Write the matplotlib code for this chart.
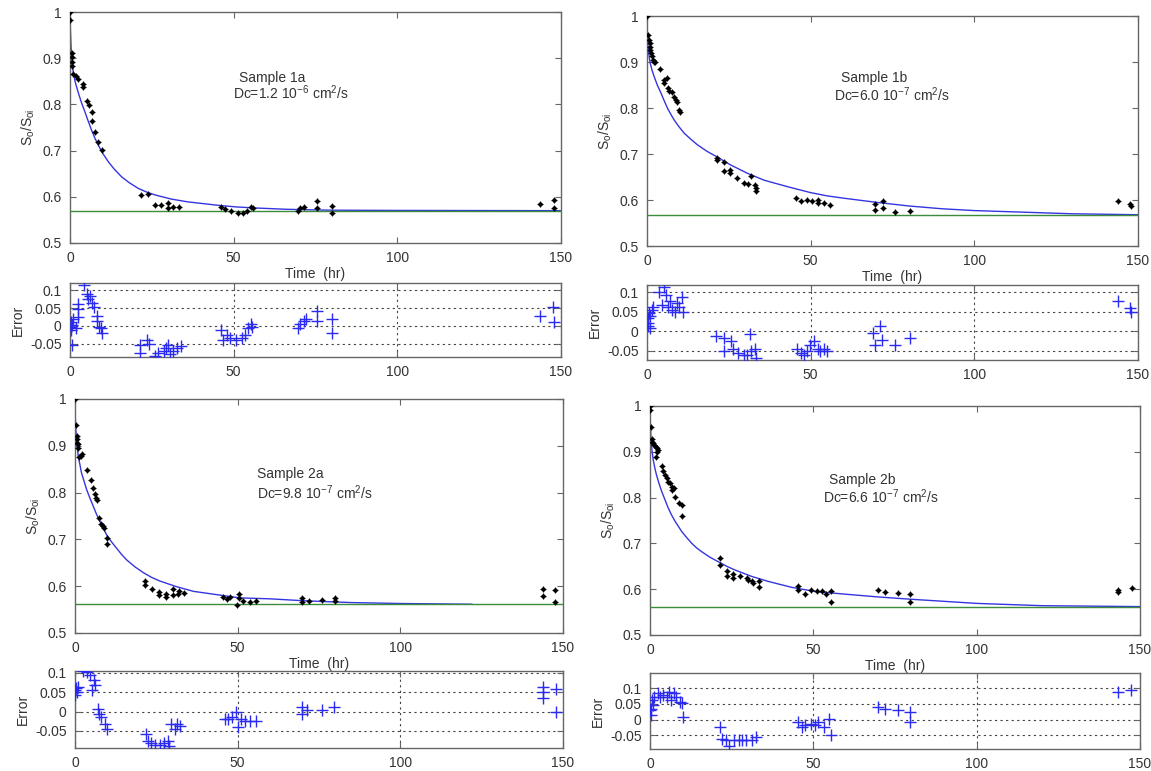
import matplotlib
matplotlib.use("Agg")
import matplotlib.pyplot as plt

plt.rcParams['font.family'] = ['Liberation Sans', 'DejaVu Sans']
plt.rcParams['mathtext.fontset'] = 'custom'
plt.rcParams['mathtext.rm'] = 'Liberation Sans'
plt.rcParams['mathtext.it'] = 'Liberation Sans:italic'

# ---------------- Sample 1a ----------------
t1 = [0, 0, 0.5, 0.5, 0.7, 0.7, 1.0, 1.7, 2.3, 4.0, 4.0, 5.1, 5.8, 6.6, 6.8, 7.6, 8.7, 9.9,
      21.7, 23.7, 26.0, 27.8, 30.0, 30.0, 31.5, 33.3, 46.0, 47.4, 49.3, 51.2, 52.9, 54.0, 55.2, 56.0,
      69.8, 70.4, 71.5, 75.4, 75.4, 80.0, 80.0, 143.6, 148.0, 148.0]
y1 = [1.0, 0.983, 0.912, 0.902, 0.891, 0.884, 0.866, 0.862, 0.855, 0.844, 0.837, 0.808, 0.798, 0.783,
      0.765, 0.740, 0.719, 0.701, 0.604, 0.607, 0.582, 0.582, 0.586, 0.575, 0.577, 0.577, 0.578, 0.573,
      0.569, 0.566, 0.566, 0.569, 0.579, 0.576, 0.569, 0.576, 0.579, 0.590, 0.576, 0.581, 0.565,
      0.585, 0.594, 0.576]
fit_t1 = [0, 0.1, 0.3, 0.6, 1.0, 1.6, 2.5, 3.5, 4.6, 5.6, 6.6, 7.6, 8.7, 10.0, 11.7, 13.5, 15.8, 18.0,
          20.9, 23.5, 26.0, 31.0, 36.0, 41.0, 46.0, 51.0, 56.0, 61.0, 66.0, 72.0, 80.0, 100.0, 150.0]
fit_y1 = [1.0, 0.965, 0.927, 0.895, 0.870, 0.848, 0.826, 0.804, 0.783, 0.763, 0.744, 0.727, 0.711,
          0.694, 0.676, 0.660, 0.643, 0.631, 0.618, 0.610, 0.604, 0.595, 0.589, 0.585, 0.581, 0.578,
          0.576, 0.5745, 0.573, 0.572, 0.571, 0.5705, 0.570]
base1 = 0.570
et1 = [0.2, 0.4, 0.4, 0.6, 0.9, 1.7, 0.6, 2.3, 2.5, 2.3, 4.3, 5.1, 5.6, 6.2, 6.8, 7.3, 8.1, 8.1, 9.0, 9.6,
       9.9, 21.4, 21.4, 23.6, 24.2, 25.9, 27.0, 28.7, 29.3, 29.8, 30.4, 31.5, 32.7, 33.8, 46.2, 46.7,
       47.9, 49.0, 50.7, 52.4, 53.5, 54.3, 55.2, 55.7, 69.8, 70.4, 71.5, 72.1, 75.4, 75.4, 80.0, 80.0,
       143.6, 147.5, 148.0]
e1 = [0.011, -0.003, -0.012, 0.002, 0.020, -0.007, -0.053, 0.047, 0.061, 0.025, 0.115, 0.088, 0.075,
      0.084, 0.065, 0.052, 0.029, 0.015, -0.003, -0.007, -0.021, -0.053, -0.075, -0.039, -0.051,
      -0.085, -0.075, -0.071, -0.062, -0.053, -0.080, -0.071, -0.062, -0.055, -0.012, -0.039, -0.025,
      -0.035, -0.039, -0.035, -0.025, -0.007, 0.004, -0.003, -0.007, 0.006, 0.015, 0.020, 0.043, 0.015,
      0.020, -0.021, 0.029, 0.052, 0.011]

# ---------------- Sample 1b ----------------
t2 = [0, 0.4, 0.7, 0.8, 0.9, 1.0, 1.2, 1.4, 1.7, 2.0, 2.4, 4.1, 5.1, 5.1, 6.1, 6.3, 6.8, 7.5, 8.1, 8.8,
      9.3, 9.9, 10.2, 21.3, 21.3, 23.6, 23.6, 25.4, 25.4, 27.6, 29.7, 30.9, 31.7, 33.0, 33.2, 33.2,
      45.4, 47.0, 49.0, 50.5, 52.1, 52.1, 54.0, 55.9, 69.6, 69.6, 72.1, 72.1, 75.8, 80.4,
      143.9, 147.5, 148.0]
y2 = [1.0, 0.959, 0.948, 0.941, 0.933, 0.926, 0.919, 0.912, 0.904, 0.899, 0.899, 0.885, 0.861, 0.854,
      0.866, 0.843, 0.836, 0.834, 0.825, 0.817, 0.814, 0.796, 0.792, 0.692, 0.687, 0.682, 0.662,
      0.665, 0.658, 0.647, 0.636, 0.634, 0.653, 0.633, 0.627, 0.620, 0.605, 0.598, 0.600, 0.597,
      0.601, 0.594, 0.593, 0.589, 0.592, 0.578, 0.597, 0.583, 0.573, 0.576, 0.597, 0.592, 0.588]
fit_t2 = [0, 0.1, 0.25, 0.5, 0.75, 1.0, 1.5, 2.2, 3.2, 4.3, 5.3, 6.3, 7.3, 8.3, 9.8, 11.4, 13.4, 15.4,
          18.3, 21.3, 25.6, 30.7, 35.8, 42.9, 50.0, 55.0, 60.0, 70.0, 80.0, 90.0, 100.0, 113.0, 130.0,
          150.0]
fit_y2 = [1.0, 0.965, 0.942, 0.921, 0.907, 0.897, 0.883, 0.868, 0.849, 0.832, 0.815, 0.799, 0.786,
          0.774, 0.759, 0.745, 0.732, 0.720, 0.706, 0.694, 0.676, 0.658, 0.643, 0.629, 0.616, 0.609,
          0.604, 0.595, 0.587, 0.581, 0.577, 0.574, 0.570, 0.568]
base2 = 0.567
et2 = [0.2, 0.4, 0.6, 0.8, 1.0, 1.4, 1.9, 0.2, 3.6, 5.3, 5.9, 4.7, 6.4, 7.0, 7.6, 8.7, 9.3, 9.8, 10.7,
       10.9, 21.1, 23.4, 23.4, 25.6, 26.2, 27.9, 29.6, 30.7, 31.5, 31.8, 33.0, 33.3, 45.9, 47.1, 48.0,
       48.8, 49.9, 51.0, 52.1, 52.7, 54.1, 55.0, 69.1, 69.6, 71.3, 71.9, 75.8, 80.4, 143.9, 147.5,
       148.0]
e2 = [0.034, 0.021, 0.046, 0.008, 0.038, 0.055, 0.063, 0.013, 0.100, 0.113, 0.092, 0.067, 0.063, 0.076,
      0.055, 0.050, 0.071, 0.063, 0.088, 0.050, -0.013, -0.017, -0.050, -0.025, -0.046, -0.055,
      -0.059, -0.061, -0.008, -0.050, -0.046, -0.067, -0.046, -0.055, -0.059, -0.050, -0.034, -0.025,
      -0.046, -0.050, -0.046, -0.050, -0.004, -0.034, 0.013, -0.021, -0.036, -0.017, 0.076, 0.059,
      0.050]

# ---------------- Sample 2a ----------------
t3 = [0, 0.2, 0.5, 0.7, 0.7, 1.0, 1.0, 1.3, 1.7, 2.0, 3.8, 4.8, 5.6, 6.1, 6.5, 6.9, 7.5, 7.9, 8.5, 8.9,
      9.7, 9.7, 21.5, 21.5, 23.6, 25.9, 25.9, 28.0, 28.0, 30.0, 30.0, 31.7, 31.9, 33.5, 45.6, 46.6,
      47.6, 49.9, 50.3, 50.3, 51.6, 53.9, 55.6, 69.7, 69.7, 72.0, 75.9, 79.9, 79.9, 143.7, 143.7,
      147.5, 147.5]
y3 = [1.0, 0.945, 0.921, 0.914, 0.907, 0.903, 0.896, 0.877, 0.878, 0.882, 0.849, 0.827, 0.810, 0.796,
      0.789, 0.784, 0.746, 0.733, 0.729, 0.724, 0.703, 0.690, 0.611, 0.602, 0.595, 0.588, 0.581,
      0.583, 0.577, 0.595, 0.581, 0.584, 0.590, 0.586, 0.576, 0.573, 0.576, 0.559, 0.583, 0.575,
      0.569, 0.566, 0.568, 0.575, 0.566, 0.569, 0.571, 0.575, 0.569, 0.595, 0.578, 0.591, 0.566]
fit_t3 = [0, 0.1, 0.25, 0.5, 0.75, 1.0, 1.5, 2.0, 2.8, 3.6, 4.6, 5.6, 6.6, 7.7, 8.7, 9.7, 11.2, 12.8,
          14.3, 15.9, 18.5, 21.0, 23.5, 26.1, 31.2, 36.4, 41.5, 46.6, 50.7, 60.0, 70.0, 85.0, 100.0,
          122.0]
fit_y3 = [1.0, 0.960, 0.935, 0.914, 0.893, 0.878, 0.860, 0.842, 0.824, 0.806, 0.788, 0.771, 0.754,
          0.738, 0.724, 0.710, 0.695, 0.681, 0.668, 0.656, 0.641, 0.629, 0.619, 0.611, 0.599, 0.589,
          0.584, 0.579, 0.575, 0.573, 0.569, 0.565, 0.563, 0.5615]
base3 = 0.561
et3 = [0.0, 0.0, 0.2, 0.5, 0.8, 2.5, 3.6, 4.7, 5.9, 6.2, 5.3, 7.0, 7.3, 8.1, 9.3, 9.8, 21.7, 22.3, 23.4,
       24.5, 26.2, 27.3, 28.5, 29.0, 29.6, 30.7, 31.3, 32.4, 46.0, 47.1, 48.3, 49.4, 50.0, 51.0, 52.2,
       53.9, 55.6, 69.7, 69.7, 71.4, 75.9, 79.7, 143.7, 143.7, 143.7, 147.7, 147.7]
e3 = [0.056, 0.042, 0.060, 0.051, 0.064, 0.104, 0.102, 0.095, 0.082, 0.069, 0.056, 0.007, -0.006,
      -0.015, -0.033, -0.046, -0.059, -0.077, -0.081, -0.086, -0.086, -0.081, -0.077, -0.090, -0.033,
      -0.046, -0.033, -0.037, -0.019, -0.019, -0.015, -0.002, -0.041, -0.019, -0.024, -0.024, -0.024,
      0.011, -0.006, 0.003, 0.003, 0.011, 0.064, 0.051, 0.034, 0.058, 0.000]

# ---------------- Sample 2b ----------------
t4 = [0, 0, 0.2, 0.5, 0.7, 1.0, 1.3, 1.7, 2.0, 2.3, 1.7, 2.0, 3.6, 4.1, 4.6, 5.1, 5.6, 6.1, 6.6, 6.8,
      7.4, 7.7, 8.9, 9.7, 9.7, 21.4, 21.4, 23.5, 23.5, 25.5, 25.5, 27.6, 29.6, 30.1, 31.3, 31.6, 33.4,
      33.4, 45.3, 45.3, 47.6, 49.3, 51.0, 52.7, 54.0, 55.5, 55.5, 69.7, 71.9, 75.9, 79.6, 79.6,
      143.3, 143.3, 147.6]
y4 = [1.0, 0.991, 0.955, 0.929, 0.922, 0.919, 0.915, 0.911, 0.908, 0.904, 0.889, 0.899, 0.868, 0.857,
      0.849, 0.842, 0.835, 0.831, 0.824, 0.817, 0.820, 0.802, 0.788, 0.784, 0.759, 0.668, 0.652,
      0.639, 0.628, 0.633, 0.624, 0.628, 0.624, 0.620, 0.617, 0.613, 0.617, 0.604, 0.606, 0.599,
      0.589, 0.599, 0.597, 0.597, 0.589, 0.597, 0.572, 0.599, 0.594, 0.591, 0.589, 0.571, 0.599,
      0.593, 0.602]
fit_t4 = [0, 0.1, 0.3, 0.6, 1.0, 1.5, 2.0, 2.8, 3.6, 4.6, 5.6, 6.6, 7.7, 8.7, 9.7, 11.2, 12.8, 14.3,
          15.8, 18.3, 20.9, 23.5, 26.0, 31.1, 36.2, 43.4, 50.5, 60.0, 70.0, 80.0, 100.0, 120.0, 150.0]
fit_y4 = [1.0, 0.965, 0.929, 0.903, 0.882, 0.864, 0.849, 0.830, 0.813, 0.795, 0.777, 0.762, 0.748,
          0.737, 0.726, 0.713, 0.700, 0.690, 0.682, 0.670, 0.660, 0.650, 0.642, 0.628, 0.617, 0.604,
          0.595, 0.589, 0.583, 0.578, 0.569, 0.564, 0.562]
base4 = 0.5605
et4 = [0.0, 0.2, 0.4, 0.6, 0.8, 1.1, 2.3, 3.1, 4.0, 5.1, 5.7, 6.5, 7.4, 7.9, 9.1, 9.9, 10.2, 21.5, 22.1,
       23.2, 24.3, 25.7, 27.2, 28.3, 29.4, 31.1, 32.3, 45.3, 46.4, 47.6, 49.3, 50.4, 51.5, 53.2, 54.9,
       55.5, 69.7, 71.9, 75.9, 79.6, 79.6, 143.3, 147.2]
e4 = [0.030, 0.014, 0.035, 0.062, 0.046, 0.073, 0.084, 0.073, 0.078, 0.071, 0.089, 0.062, 0.084, 0.071,
      0.057, 0.054, 0.009, -0.024, -0.061, -0.066, -0.083, -0.066, -0.066, -0.066, -0.066, -0.066,
      -0.056, -0.008, -0.024, -0.018, -0.013, -0.018, -0.008, -0.024, 0.003, -0.050, 0.041, 0.035,
      0.032, 0.025, -0.008, 0.089, 0.094]

samples = ["Sample 1a", "Sample 1b", "Sample 2a", "Sample 2b"]
dc_texts = [r"Dc=1.2 10$^{\mathregular{-6}}$ cm$^{\mathregular{2}}$/s",
            r"Dc=6.0 10$^{\mathregular{-7}}$ cm$^{\mathregular{2}}$/s",
            r"Dc=9.8 10$^{\mathregular{-7}}$ cm$^{\mathregular{2}}$/s",
            r"Dc=6.6 10$^{\mathregular{-7}}$ cm$^{\mathregular{2}}$/s"]
x_ticks = [0, 50, 100, 150]
main_yticks = [0.5, 0.6, 0.7, 0.8, 0.9, 1.0]
main_ylabels = ["0.5", "0.6", "0.7", "0.8", "0.9", "1"]
err_yticks = [-0.05, 0, 0.05, 0.1]
err_ylabels = ["-0.05", "0", "0.05", "0.1"]

# layout (pixels: left, right, top, bottom)
W, H = 1151, 771
main_boxes = [(70, 561, 12, 243), (647, 1138, 16, 246), (75, 563, 399, 633), (650, 1140, 406, 635)]
err_boxes = [(70, 561, 283, 357), (647, 1138, 285, 360), (75, 563, 671, 748), (650, 1140, 673, 749)]
err_ylims = [(-0.087, 0.12), (-0.073, 0.118), (-0.094, 0.105), (-0.093, 0.148)]
text_pos = [((51.6, 0.858), (49.8, 0.825)), ((59.2, 0.866), (57.2, 0.830)),
            ((55.8, 0.840), (55.8, 0.800)), ((54.7, 0.838), (52.9, 0.802))]

data = [(t1, y1, fit_t1, fit_y1, base1, et1, e1),
        (t2, y2, fit_t2, fit_y2, base2, et2, e2),
        (t3, y3, fit_t3, fit_y3, base3, et3, e3),
        (t4, y4, fit_t4, fit_y4, base4, et4, e4)]

TXT = '#333333'
SPINE = '#666666'
BLUE = '#3535e0'
GREEN = '#3c8c3c'

fig = plt.figure(figsize=(W / 100, H / 100), dpi=100)


def box_to_rect(b):
    l, r, t, bt = b
    return [l / W, 1 - bt / H, (r - l) / W, (bt - t) / H]


def style_axes(ax):
    for s in ax.spines.values():
        s.set_color(SPINE)
        s.set_linewidth(1.0)
    ax.tick_params(direction='in', top=True, right=True, length=4, width=0.8,
                   colors=SPINE, labelcolor=TXT, labelsize=10, pad=6)


for i, (t, y, ft, fy, base, et, e) in enumerate(data):
    ax = fig.add_axes(box_to_rect(main_boxes[i]))
    ax.plot(ft, fy, color=BLUE, lw=1.0, zorder=2)
    ax.plot([0, 150], [base, base], color=GREEN, lw=1.0, zorder=3)
    ax.plot(t, y, 'o', color='black', ms=3.2, mew=0, zorder=4)
    ax.plot(t, y, '+', color='black', ms=5, mew=0.8, zorder=4)
    ax.set_xlim(0, 150)
    ax.set_ylim(0.5, 1.0)
    ax.set_xticks(x_ticks)
    ax.set_yticks(main_yticks)
    ax.set_yticklabels(main_ylabels)
    style_axes(ax)
    ax.set_xlabel("Time  (hr)", fontsize=10, color=TXT, labelpad=1)
    ax.set_ylabel(r"S$_\mathregular{o}$/S$_\mathregular{oi}$", fontsize=10, color=TXT, labelpad=4)
    (sx, sy), (dx, dy) = text_pos[i]
    ax.text(sx, sy, samples[i], fontsize=10, color=TXT, va='center', ha='left')
    ax.text(dx, dy, dc_texts[i], fontsize=10, color=TXT, va='center', ha='left')

    ae = fig.add_axes(box_to_rect(err_boxes[i]))
    ae.plot(et, e, '+', color='#2a2af0', ms=9, mew=1.0, zorder=3)
    ae.set_xlim(0, 150)
    ae.set_ylim(*err_ylims[i])
    ae.set_xticks(x_ticks)
    ae.set_yticks(err_yticks)
    ae.set_yticklabels(err_ylabels)
    ae.grid(True, linestyle=(0, (2, 3)), color='#444444', linewidth=0.8)
    style_axes(ae)
    ae.set_ylabel("Error", fontsize=10, color=TXT, labelpad=4)

fig.savefig("out.png", dpi=100)
